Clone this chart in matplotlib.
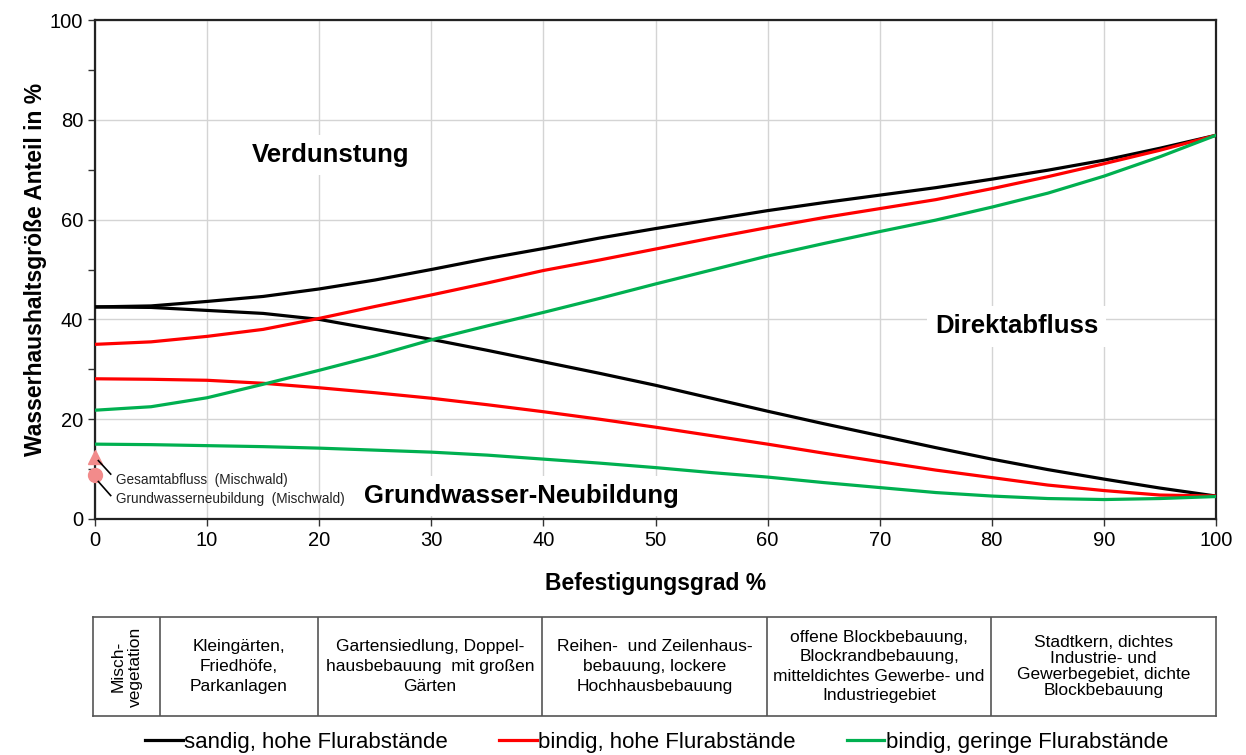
import matplotlib.pyplot as plt
import numpy as np

plt.rcParams['font.family'] = ['Liberation Sans', 'DejaVu Sans']

# Befestigungsgrad in %
x = [0, 5, 10, 15, 20, 25, 30, 35, 40, 45, 50, 55, 60, 65, 70, 75, 80, 85, 90, 95, 100]

# Verdunstung (upper curves)
verd_sandig_hoch = [42.5, 42.7, 43.6, 44.6, 46.1, 47.9, 50.0, 52.2, 54.2, 56.3, 58.2,
                    60.0, 61.8, 63.4, 64.9, 66.4, 68.1, 69.9, 71.9, 74.3, 76.9]
verd_bindig_hoch = [35.0, 35.5, 36.6, 38.0, 40.2, 42.6, 44.9, 47.3, 49.8, 51.9, 54.1,
                    56.3, 58.4, 60.4, 62.2, 64.0, 66.2, 68.6, 71.2, 73.9, 76.9]
verd_bindig_gering = [21.8, 22.5, 24.3, 27.0, 29.8, 32.7, 35.9, 38.7, 41.4, 44.2, 47.1,
                      49.9, 52.7, 55.2, 57.6, 59.9, 62.5, 65.3, 68.7, 72.6, 76.9]

# Grundwasser-Neubildung (lower curves)
gwn_sandig_hoch = [42.5, 42.4, 41.8, 41.2, 40.0, 38.0, 36.0, 33.8, 31.5, 29.2, 26.8,
                   24.2, 21.6, 19.1, 16.7, 14.3, 12.0, 9.9, 8.0, 6.2, 4.6]
gwn_bindig_hoch = [28.1, 28.0, 27.8, 27.2, 26.3, 25.3, 24.2, 22.9, 21.5, 20.0, 18.4,
                   16.7, 15.0, 13.2, 11.5, 9.8, 8.3, 6.8, 5.7, 4.8, 4.6]
gwn_bindig_gering = [15.0, 14.9, 14.7, 14.5, 14.2, 13.8, 13.4, 12.8, 12.0, 11.2, 10.3,
                     9.3, 8.4, 7.3, 6.3, 5.3, 4.6, 4.1, 3.9, 4.1, 4.5]

# Mischwald reference points
mischwald_gesamt = 12.5
mischwald_gwn = 8.8

# table below the chart
table_edges = [0, 6, 20, 40, 60, 80, 100]
table_texts = [
    "Misch-\nvegetation",
    "Kleingärten,\nFriedhöfe,\nParkanlagen",
    "Gartensiedlung, Doppel-\nhausbebauung  mit großen\nGärten",
    "Reihen-  und Zeilenhaus-\nbebauung, lockere\nHochhausbebauung",
    "offene Blockbebauung,\nBlockrandbebauung,\nmitteldichtes Gewerbe- und\nIndustriegebiet",
    "Stadtkern, dichtes\nIndustrie- und\nGewerbegebiet, dichte\nBlockbebauung",
]
table_spacing = [1.25, 1.38, 1.38, 1.38, 1.38, 1.07]

labels = ["sandig, hohe Flurabstände", "bindig, hohe Flurabstände",
          "bindig, geringe Flurabstände"]
colors = ["black", "#ff0000", "#00b050"]

W, H = 1246, 755
fig = plt.figure(figsize=(W / 100, H / 100), dpi=100)
ax = fig.add_axes([95 / W, 1 - 519 / H, (1216 - 95) / W, (519 - 20) / H])

lw = 2.3
for up, low, c, lab in zip([verd_sandig_hoch, verd_bindig_hoch, verd_bindig_gering],
                           [gwn_sandig_hoch, gwn_bindig_hoch, gwn_bindig_gering],
                           colors, labels):
    ax.plot(x, up, '-', color=c, lw=lw, label=lab, zorder=3, solid_joinstyle='round')
    ax.plot(x, low, '-', color=c, lw=lw, zorder=3, solid_joinstyle='round')

ax.plot([0], [mischwald_gesamt], '^', color='#f28b8b', ms=10, clip_on=False, zorder=4)
ax.plot([0], [mischwald_gwn], 'o', color='#f28b8b', ms=10, clip_on=False, zorder=4)
ax.plot([0.3, 1.4], [11.7, 9.0], '-', color='black', lw=1.2, zorder=4)
ax.plot([0.3, 1.4], [7.5, 4.7], '-', color='black', lw=1.2, zorder=4)
ax.text(1.9, 7.8, "Gesamtabfluss  (Mischwald)", fontsize=9.8, va='center', color='#222222')
ax.text(1.9, 4.0, "Grundwasserneubildung  (Mischwald)", fontsize=9.8, va='center', color='#222222')

box = dict(facecolor='white', edgecolor='none', pad=6)
ax.text(21.0, 73.0, "Verdunstung", fontsize=18.5, fontweight='bold', ha='center', va='center', bbox=box, zorder=2)
ax.text(82.2, 38.6, "Direktabfluss", fontsize=18.5, fontweight='bold', ha='center', va='center', bbox=box, zorder=2)
ax.text(38.0, 4.6, "Grundwasser-Neubildung", fontsize=18.5, fontweight='bold', ha='center', va='center', bbox=box, zorder=2)

ax.set_xlim(0, 100)
ax.set_ylim(0, 100)
ax.set_xticks(np.arange(0, 101, 10))
ax.set_yticks(np.arange(0, 101, 20))
ax.set_yticks(np.arange(10, 100, 20), minor=True)
ax.grid(True, which='major', color='#d4d4d4', lw=1.0, zorder=0)
ax.set_axisbelow(True)
ax.tick_params(axis='both', which='major', labelsize=14.5, length=5, width=1, colors='#333333', labelcolor='black')
ax.tick_params(axis='y', which='minor', length=5, width=1, colors='#333333')
for s in ax.spines.values():
    s.set_color('#222222')
    s.set_linewidth(1.6)
ax.set_ylabel("Wasserhaushaltsgröße Anteil in %", fontsize=16.5, fontweight='bold', labelpad=2)
ax.set_xlabel("Befestigungsgrad %", fontsize=16.5, fontweight='bold', labelpad=16)

# table of land uses
tax = fig.add_axes([93 / W, 1 - 716 / H, (1216 - 93) / W, (716 - 617) / H])
tax.set_xlim(0, 100)
tax.set_ylim(0, 1)
tax.set_xticks([])
tax.set_yticks([])
for s in tax.spines.values():
    s.set_color('#555555')
    s.set_linewidth(1.2)
for e in table_edges[1:-1]:
    tax.axvline(e, color='#555555', lw=1.2)
for i, t in enumerate(table_texts):
    cx = (table_edges[i] + table_edges[i + 1]) / 2
    rot = 90 if i == 0 else 0
    tax.text(cx, 0.5, t, ha='center', va='center', fontsize=12.5, rotation=rot,
             linespacing=table_spacing[i])

fig.legend(loc='center', bbox_to_anchor=(0.527, 0.017), ncol=3, frameon=False,
           fontsize=16, handlelength=1.7, handletextpad=0.05, columnspacing=2.3)

fig.savefig("out.png", dpi=100)
